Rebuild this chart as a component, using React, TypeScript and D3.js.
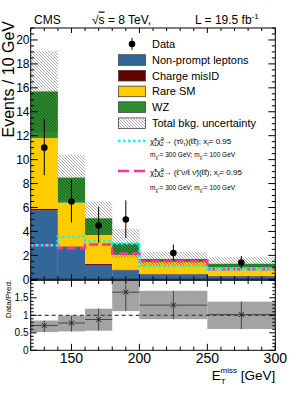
import React from 'react';
import * as d3 from 'd3';

// binning in MET [GeV]
const binEdges = [120, 140, 160, 180, 200, 250, 300];

// background stack (events / 10 GeV)
const nonPrompt = [5.75, 2.65, 1.2, 0.75, 0.4, 0.25];
const chargeMisID = [0.15, 0.1, 0.08, 0.06, 0.04, 0.03];
const rareSM = [5.9, 3.65, 2.42, 1.24, 1.01, 0.72];
const wz = [3.9, 2.1, 1.4, 0.95, 0.25, 0.3];
const bkgUnc = [3.4, 1.9, 1.4, 1.2, 0.6, 0.55];

// data
const dataVals = [11.0, 6.5, 4.5, 5.0, 2.2, 1.4];
const dataErrHi = [2.45, 1.85, 1.55, 1.6, 0.7, 0.55];
const dataErrLo = [2.3, 1.75, 1.45, 1.55, 0.6, 0.5];

// signal hypotheses
const sigTau = [2.85, 3.55, 3.2, 3.0, 1.1, 0.85];
const sigLep = [2.85, 2.6, 2.9, 2.15, 1.5, 0.85];

// ratio panel
const ratioVals = [0.71, 0.78, 0.88, 1.66, 1.29, 1.02];
const ratioErrLo = [0.52, 0.54, 0.56, 1.12, 0.89, 0.61];
const ratioErrHi = [0.85, 0.99, 1.19, 1.87, 1.7, 1.39];
const ratioBandLo = [0.52, 0.54, 0.56, 1.12, 0.89, 0.61];
const ratioBandHi = [0.85, 0.99, 1.19, 2.1, 1.7, 1.39];

const xTicks = [150, 200, 250, 300];
const yTicks = [0, 2, 4, 6, 8, 10, 12, 14, 16, 18, 20];
const ratioTicks = [0, 0.5, 1, 1.5];

const stackKeys = ['nonPrompt', 'chargeMisID', 'rareSM', 'wz'];
const stackColors: Record<string, string> = {
  nonPrompt: '#336699',
  chargeMisID: '#660000',
  rareSM: '#ffcc00',
  wz: '#2d8c2d',
};

const legendItems = [
  { key: 'nonPrompt', label: 'Non-prompt leptons' },
  { key: 'chargeMisID', label: 'Charge misID' },
  { key: 'rareSM', label: 'Rare SM' },
  { key: 'wz', label: 'WZ' },
];

const font = 'Liberation Sans, Arial, Helvetica, sans-serif';

export default function App() {
  const left = 30.7;
  const right = 275.3;
  const upTop = 28;
  const upBottom = 279.3;
  const loTop = 280.3;
  const loBottom = 350.3;

  const x = d3.scaleLinear().domain([120, 300]).range([left, right]);
  const y = d3.scaleLinear().domain([0, 21]).range([upBottom, upTop]);
  const yr = d3.scaleLinear().domain([0, 2]).range([loBottom, loTop]);

  const rows = nonPrompt.map((_, i) => ({
    nonPrompt: nonPrompt[i],
    chargeMisID: chargeMisID[i],
    rareSM: rareSM[i],
    wz: wz[i],
  }));
  const stacked = d3.stack<any>().keys(stackKeys)(rows);
  const totals = rows.map(r => r.nonPrompt + r.chargeMisID + r.rareSM + r.wz);

  const stepLine = (vals: number[]) => {
    const pts: [number, number][] = vals.map((v, i) => [binEdges[i], v]);
    pts.push([binEdges[binEdges.length - 1], vals[vals.length - 1]]);
    return d3
      .line<[number, number]>()
      .x(d => x(d[0]))
      .y(d => y(d[1]))
      .curve(d3.curveStepAfter)(pts) as string;
  };

  const centers = binEdges.slice(0, -1).map((lo, i) => (lo + binEdges[i + 1]) / 2);
  const minorX = d3.range(120, 301, 10);
  const minorY = d3.range(0, 21.01, 0.5);
  const minorR = d3.range(0, 2.001, 0.1);

  return (
    <svg
      width={306}
      height={399}
      style={{ position: 'absolute', left: 0, top: 0, background: '#fff' }}
      fontFamily={font}
    >
      <defs>
        <pattern id="hatch" patternUnits="userSpaceOnUse" width="3" height="3">
          <path
            d="M-1,2 L1,4 M-1,-1 L4,4 M2,-1 L4,1"
            stroke="#000"
            strokeOpacity={0.4}
            strokeWidth={0.8}
          />
        </pattern>
        <clipPath id="upClip">
          <rect x={left} y={upTop} width={right - left} height={upBottom - upTop} />
        </clipPath>
        <clipPath id="loClip">
          <rect x={left} y={loTop} width={right - left} height={loBottom - loTop} />
        </clipPath>
      </defs>

      {/* header */}
      <text x={34} y={23.5} fontSize={12}>CMS</text>
      <text x={92} y={23.5} fontSize={12}>
        √<tspan textDecoration="overline">s</tspan> = 8 TeV,
      </text>
      <text x={195} y={23.5} fontSize={12}>
        L  = 19.5 fb<tspan dy={-5} fontSize={8}>-1</tspan>
      </text>

      {/* stacked backgrounds */}
      <g clipPath="url(#upClip)">
        {stacked.map(layer => (
          <g key={layer.key} fill={stackColors[layer.key]}>
            {layer.map((d, i) => (
              <rect
                key={i}
                x={x(binEdges[i])}
                width={x(binEdges[i + 1]) - x(binEdges[i])}
                y={y(d[1])}
                height={y(d[0]) - y(d[1])}
              />
            ))}
          </g>
        ))}
        {/* uncertainty hatch */}
        {totals.map((t, i) => (
          <rect
            key={i}
            x={x(binEdges[i])}
            width={x(binEdges[i + 1]) - x(binEdges[i])}
            y={y(t + bkgUnc[i])}
            height={y(t - bkgUnc[i]) - y(t + bkgUnc[i])}
            fill="url(#hatch)"
          />
        ))}
        {/* signals */}
        <path d={stepLine(sigLep)} fill="none" stroke="#ff3399" strokeWidth={2.5} strokeDasharray="9,4" />
        <path d={stepLine(sigTau)} fill="none" stroke="#00ffff" strokeWidth={2.5} strokeDasharray="2.5,2.5" />
      </g>

      {/* data points */}
      {centers.map((c, i) => (
        <g key={i}>
          <line
            x1={x(c)}
            x2={x(c)}
            y1={y(dataVals[i] + dataErrHi[i])}
            y2={y(dataVals[i] - dataErrLo[i])}
            stroke="#000"
            strokeWidth={1}
          />
          <circle cx={x(c)} cy={y(dataVals[i])} r={3.3} fill="#000" />
        </g>
      ))}

      {/* upper frame & ticks */}
      <rect x={left} y={upTop} width={right - left} height={upBottom - upTop} fill="none" stroke="#000" strokeWidth={1} />
      {minorY.map(v => {
        const major = Math.abs(v % 2) < 1e-6;
        const len = major ? 7 : 3.5;
        return (
          <g key={v} stroke="#000" strokeWidth={1}>
            <line x1={left} x2={left + len} y1={y(v)} y2={y(v)} />
            <line x1={right} x2={right - len} y1={y(v)} y2={y(v)} />
          </g>
        );
      })}
      {minorX.map(v => {
        const major = v % 50 === 0;
        const len = major ? 5 : 3;
        return (
          <g key={v} stroke="#000" strokeWidth={1}>
            <line x1={x(v)} x2={x(v)} y1={upTop} y2={upTop + len} />
            <line x1={x(v)} x2={x(v)} y1={upBottom} y2={upBottom - len} />
          </g>
        );
      })}
      {yTicks.map(v => (
        <text key={v} x={29.5} y={y(v) + 4.3} fontSize={12} textAnchor="end">
          {v}
        </text>
      ))}
      <text
        transform={`translate(14,21) rotate(-90)`}
        fontSize={16}
        textAnchor="end"
      >
        Events / 10 GeV
      </text>

      {/* legend */}
      <line x1={132} x2={132} y1={38} y2={50} stroke="#000" strokeWidth={1} />
      <circle cx={132} cy={44} r={3.3} fill="#000" />
      <text x={152} y={48} fontSize={11}>Data</text>
      {legendItems.map((it, i) => {
        const cy = 60 + i * 15.7;
        return (
          <g key={it.key}>
            <rect x={118.5} y={cy - 5.3} width={27} height={10.6} fill={stackColors[it.key]} stroke="#444" strokeWidth={0.8} />
            <text x={152} y={cy + 4} fontSize={11}>{it.label}</text>
          </g>
        );
      })}
      <rect x={118.5} y={123.2 - 5.3} width={27} height={10.6} fill="url(#hatch)" stroke="#444" strokeWidth={0.8} />
      <text x={152} y={127.2} fontSize={11}>Total bkg. uncertainty</text>

      <line x1={118} x2={146} y1={141} y2={141} stroke="#00ffff" strokeWidth={2.5} strokeDasharray="2.5,2.5" />
      <text x={150} y={144} fontSize={8}>
        χ̃<tspan dy={-3} fontSize={5}>±</tspan>
        <tspan dx={-3} dy={5} fontSize={5}>1</tspan>
        <tspan dy={-2}>χ̃</tspan>
        <tspan dy={-3} fontSize={5}>0</tspan>
        <tspan dx={-3} dy={5} fontSize={5}>2</tspan>
        <tspan dy={-2}>→ (τ̃ν</tspan>
        <tspan dy={2} fontSize={5}>τ</tspan>
        <tspan dy={-2}>)(ℓ̃ℓ); x</tspan>
        <tspan dy={2} fontSize={5}>ℓ̃</tspan>
        <tspan dy={-2}>= 0.95</tspan>
      </text>
      <text x={150} y={156.5} fontSize={6.5}>
        m<tspan dy={2} fontSize={4.5}>χ̃</tspan>
        <tspan dy={-2}> = 300 GeV; m</tspan>
        <tspan dy={2} fontSize={4.5}>χ̃</tspan>
        <tspan dy={-2}> = 100 GeV</tspan>
      </text>

      <line x1={118} x2={146} y1={171} y2={171} stroke="#ff3399" strokeWidth={2.5} strokeDasharray="11,5" />
      <text x={150} y={174.5} fontSize={8}>
        χ̃<tspan dy={-3} fontSize={5}>±</tspan>
        <tspan dx={-3} dy={5} fontSize={5}>1</tspan>
        <tspan dy={-2}>χ̃</tspan>
        <tspan dy={-3} fontSize={5}>0</tspan>
        <tspan dx={-3} dy={5} fontSize={5}>2</tspan>
        <tspan dy={-2}>→ (ℓ̃ ν/ℓ ν̃)(ℓ̃ℓ); x</tspan>
        <tspan dy={2} fontSize={5}>ℓ̃</tspan>
        <tspan dy={-2}>= 0.95</tspan>
      </text>
      <text x={150} y={190} fontSize={6.5}>
        m<tspan dy={2} fontSize={4.5}>χ̃</tspan>
        <tspan dy={-2}> = 300 GeV; m</tspan>
        <tspan dy={2} fontSize={4.5}>χ̃</tspan>
        <tspan dy={-2}> = 100 GeV</tspan>
      </text>

      {/* ratio panel */}
      <g clipPath="url(#loClip)">
        {centers.map((c, i) => (
          <rect
            key={i}
            x={x(binEdges[i])}
            width={x(binEdges[i + 1]) - x(binEdges[i])}
            y={yr(ratioBandHi[i])}
            height={yr(ratioBandLo[i]) - yr(ratioBandHi[i])}
            fill="#a3a3a3"
          />
        ))}
        <line x1={left} x2={right} y1={yr(1)} y2={yr(1)} stroke="#444" strokeWidth={1.2} strokeDasharray="4,3" />
        {centers.map((c, i) => (
          <g key={i} stroke="#444" strokeWidth={1}>
            <line x1={x(binEdges[i])} x2={x(binEdges[i + 1])} y1={yr(ratioVals[i])} y2={yr(ratioVals[i])} />
            <line x1={x(c)} x2={x(c)} y1={yr(ratioErrHi[i])} y2={yr(ratioErrLo[i])} />
            <path
              d={`M${x(c) - 2.5},${yr(ratioVals[i]) - 2.5}L${x(c) + 2.5},${yr(ratioVals[i]) + 2.5}M${x(c) - 2.5},${yr(ratioVals[i]) + 2.5}L${x(c) + 2.5},${yr(ratioVals[i]) - 2.5}`}
              stroke="#222"
            />
          </g>
        ))}
      </g>
      <rect x={left} y={loTop} width={right - left} height={loBottom - loTop} fill="none" stroke="#000" strokeWidth={1} />
      {minorR.map(v => {
        const major = Math.abs(Math.round(v * 10) % 5) === 0;
        const len = major ? 6 : 3;
        return (
          <g key={v} stroke="#000" strokeWidth={1}>
            <line x1={left} x2={left + len} y1={yr(v)} y2={yr(v)} />
            <line x1={right} x2={right - len} y1={yr(v)} y2={yr(v)} />
          </g>
        );
      })}
      {minorX.map(v => {
        const major = v % 50 === 0;
        const len = major ? 6.5 : 3.7;
        return (
          <g key={v} stroke="#000" strokeWidth={1}>
            <line x1={x(v)} x2={x(v)} y1={loTop} y2={loTop + len} />
            <line x1={x(v)} x2={x(v)} y1={loBottom} y2={loBottom - len} />
          </g>
        );
      })}
      {ratioTicks.map(v => (
        <text key={v} x={28.5} y={yr(v) + 3.6} fontSize={10} textAnchor="end">
          {v}
        </text>
      ))}
      <text transform="translate(11,299) rotate(-90)" fontSize={8} textAnchor="middle">
        Data/Pred.
      </text>
      {xTicks.map(v => (
        <text key={v} x={x(v)} y={362.5} fontSize={14} textAnchor="middle">
          {v}
        </text>
      ))}
      <text x={275.3} y={379.5} fontSize={13.5} textAnchor="end">
        E<tspan dy={4} fontSize={8}>T</tspan>
        <tspan dx={-5} dy={-11} fontSize={8}>miss</tspan>
        <tspan dy={7}> [GeV]</tspan>
      </text>
    </svg>
  );
}
